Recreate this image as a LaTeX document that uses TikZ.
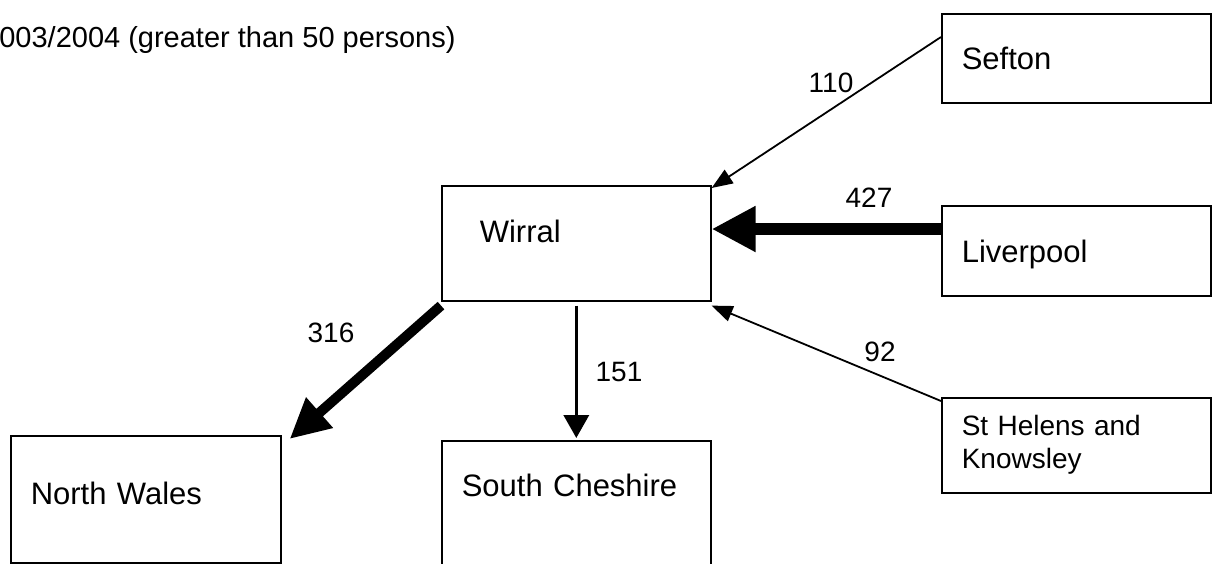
\documentclass[tikz,border=0pt]{standalone}
\usepackage{fontspec}
\setmainfont{Liberation Sans}
\usepackage{tikz}
\usetikzlibrary{arrows.meta}

\tikzset{
  area/.style={draw, line width=0.8pt, anchor=north west, minimum width=134.5pt, minimum height=45pt,
    inner xsep=10pt, inner ysep=0pt, text width=114.5pt, align=left, text height=11.5pt, text depth=0pt,
    font=\fontsize{15.5}{18}\selectfont},
  num/.style={font=\fontsize{14}{16.5}\selectfont, inner sep=0pt},
  flowthin/.style={line width=0.9pt, -{Triangle[length=10.5pt, width=8pt]}},
  flowmid/.style={line width=1.8pt, -{Triangle[length=11.5pt, width=12.5pt]}},
  flowthick/.style={line width=6pt, -{Triangle[length=22pt, width=21.5pt]}},
  flowbig/.style={line width=5pt, -{Triangle[length=20pt, width=19pt]}}
}

\begin{document}
\begin{tikzpicture}[x=0.5pt, y=-0.5pt]
      \useasboundingbox (0, 0) rectangle (1218, 563);
      \clip (0, 0) rectangle (1218, 563);

      \node[num, font=\fontsize{14.5}{17}\selectfont, anchor=base east] (title) at (456, 47) {003/2004 (greater than 50 persons)};

      \node[area, minimum height=44.5pt] (sefton) at (941, 13) {Sefton};
      \node[area] (liverpool) at (941, 205) {Liverpool};
      \node[area, minimum height=47.5pt, font=\fontsize{14}{16.5}\selectfont, text height=10.5pt, text depth=20pt] (sthelens) at (941, 397) {St Helens and\\Knowsley};
      \node[area, minimum height=57.5pt, inner xsep=19pt, text width=96.5pt, text depth=12pt] (wirral) at (441, 185) {Wirral};
      \node[area, minimum width=135pt, minimum height=63.5pt, text width=115pt, text depth=6pt] (northwales) at (10, 435) {North Wales};
      \node[area, minimum height=80pt, text depth=35.5pt] (southches) at (441, 440) {South Cheshire};

      \draw[flowthin] ([yshift=-12pt]sefton.north west) -- ([yshift=-1.5pt]wirral.north east);
      \node[num] (n110) at (831, 83) {110};

      \coordinate (lp) at ([yshift=-12pt]liverpool.north west);
      \draw[flowthick] (lp) -- (lp -| wirral.east);
      \node[num] (n427) at (869, 198) {427};

      \draw[flowthin] ([yshift=-2pt]sthelens.north west) -- ([yshift=-2pt]wirral.south east);
      \node[num] (n92) at (880, 352) {92};

      \draw[flowbig] ([yshift=-2pt]wirral.south west) -- ([shift={(4pt,-2pt)}]northwales.north east);
      \node[num] (n316) at (331, 333) {316};

      \draw[flowmid] ([yshift=-2pt]wirral.south) -- ([yshift=1pt]southches.north);
      \node[num] (n151) at (619, 372) {151};

\end{tikzpicture}
\end{document}
